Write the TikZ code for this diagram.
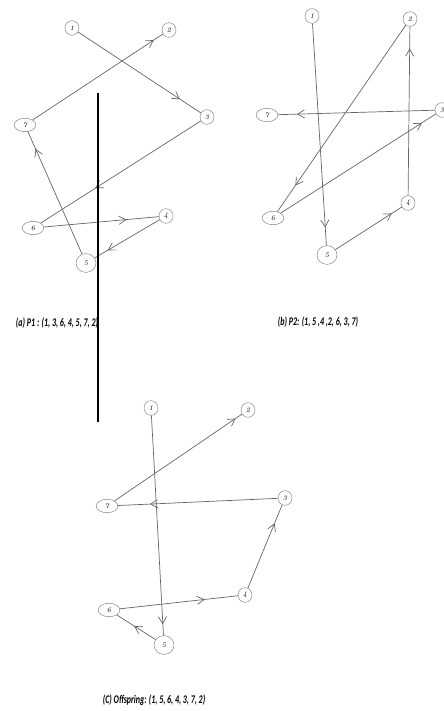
\documentclass[tikz,border=0pt]{standalone}
\usepackage{fontspec}
\usepackage{graphicx}
\newfontfamily\capfont{Carlito}
\usetikzlibrary{arrows.meta,shapes.geometric,decorations.markings}

\begin{document}
\begin{tikzpicture}[x=0.03cm,y=-0.03cm,
   city/.style={draw=gray,thin,ellipse,inner sep=0pt,minimum width=12pt,minimum height=12.5pt,
                font=\fontsize{6}{6}\selectfont\itshape},
   cityw/.style={city,minimum width=18.5pt,minimum height=11.5pt},
   cityb/.style={city,minimum width=17pt,minimum height=16pt},
   tour/.style={draw=black!60,line width=0.6pt,postaction={decorate},
                decoration={markings,mark=at position #1 with {\arrow{Straight Barb[length=6pt,width=7pt]}}}},
   caption/.style={font=\capfont\bfseries\itshape\fontsize{10}{12}\selectfont}]
  \useasboundingbox (0,0) rectangle (443,711);
  % (a) parent P1
  \node[city]  (a1) at (72,28)   {1};
  \node[city]  (a2) at (169,30)  {2};
  \node[city]  (a3) at (207,117) {3};
  \node[cityw] (a7) at (25,125)  {7};
  \node[cityw] (a6) at (33,228)  {6};
  \node[city]  (a4) at (166,216) {4};
  \node[cityb] (a5) at (86,263)  {5};
  \draw[tour=0.83] (a1) -- (a3);
  \draw[tour=0.66] (a3) -- (a6);
  \draw[tour=0.72] (a6) -- (a4);
  \draw[tour=0.8]  (a4) -- (a5);
  \draw[tour=0.86] (a5) -- (a7);
  \draw[tour=0.93] (a7) -- (a2);
  \node[caption] (capa) at (57,323) {\scalebox{0.68}[1]{(a) P1 : (1, 3, 6, 4, 5, 7, 2)}};
  % (b) parent P2
  \node[city]  (b1) at (312,16)  {1};
  \node[city]  (b2) at (410,19)  {2};
  \node[cityw] (b7) at (267,115) {7};
  \node[city]  (b3) at (442,110) {3};
  \node[cityw] (b6) at (273,218) {6};
  \node[cityb] (b5) at (327,255) {5};
  \node[city]  (b4) at (408,203) {4};
  \draw[tour=0.92] (b1) -- (b5);
  \draw[tour=0.85] (b5) -- (b4);
  \draw[tour=0.87] (b4) -- (b2);
  \draw[tour=0.86] (b2) -- (b6);
  \draw[tour=0.91] (b6) -- (b3);
  \draw[tour=0.88] (b3) -- (b7);
  \node[caption] (capb) at (318,322) {\scalebox{0.68}[1]{(b) P2: (1, 5 ,4 ,2, 6, 3, 7)}};
  % separator
  \coordinate (septop) at (98,93);
  \coordinate (sepbot) at (98,422);
  \draw[line width=2pt] (septop) -- (sepbot);
  % (c) offspring
  \node[city]  (c1) at (151,408) {1};
  \node[city]  (c2) at (248,410) {2};
  \node[cityw] (c7) at (107,506) {7};
  \node[city]  (c3) at (285,498) {3};
  \node[cityw] (c6) at (109,610) {6};
  \node[city]  (c4) at (245,595) {4};
  \node[cityb] (c5) at (164,645) {5};
  \draw[tour=0.95] (c1) -- (c5);
  \draw[tour=0.55] (c5) -- (c6);
  \draw[tour=0.72] (c6) -- (c4);
  \draw[tour=0.78] (c4) -- (c3);
  \draw[tour=0.8]  (c3) -- (c7);
  \draw[tour=0.95] (c7) -- (c2);
  \node[caption] (capc) at (154,700) {\scalebox{0.68}[1]{(C) Offspring: (1, 5, 6, 4, 3, 7, 2)}};
\end{tikzpicture}
\end{document}
